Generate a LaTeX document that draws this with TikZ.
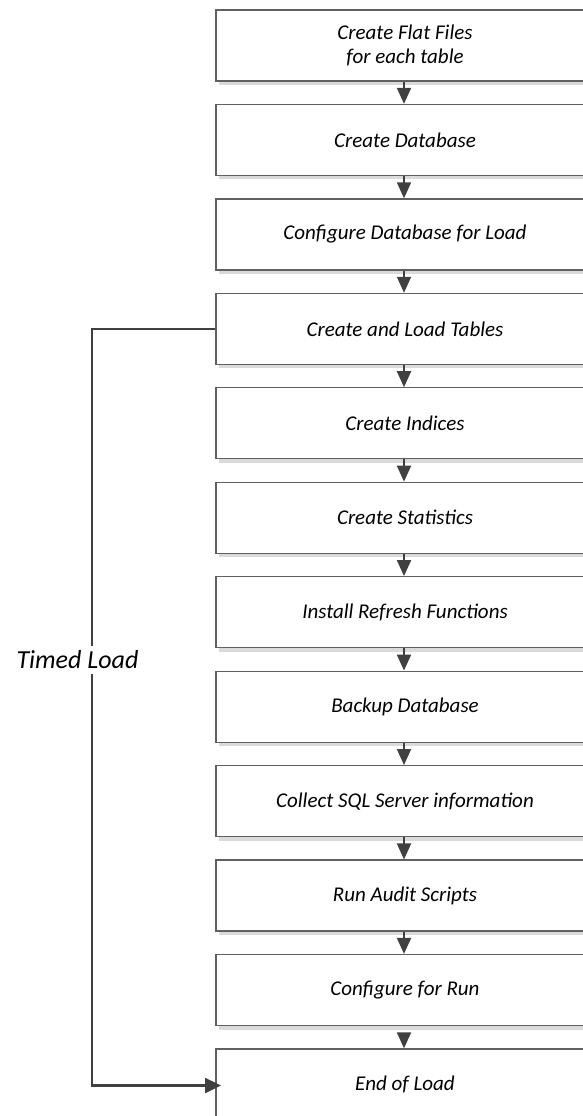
\documentclass[tikz,border=0pt]{standalone}
\usepackage{fontspec}
\setmainfont{Carlito}
\usetikzlibrary{arrows.meta,shadows}
\definecolor{lineclr}{HTML}{404040}
\definecolor{boxclr}{HTML}{606060}
\definecolor{shadowclr}{HTML}{DADADA}
\begin{document}
\begin{tikzpicture}[x=1pt,y=-1pt,
  stepbox/.style={draw=boxclr,line width=1.2pt,fill=white,minimum width=378pt,minimum height=71pt,
    inner sep=0pt,align=center,font=\fontsize{21}{24}\selectfont\itshape,
    drop shadow={shadow xshift=3pt,shadow yshift=-4pt,fill=shadowclr,opacity=1}},
  flow/.style={draw=lineclr,line width=2pt,-{Triangle[width=14pt,length=16pt]}},
  loopline/.style={draw=lineclr,line width=2.5pt,-{Triangle[width=15pt,length=16pt]}}]
\useasboundingbox (0,0) rectangle (583,1116);
\begin{scope}
\clip (0,0) rectangle (583,1116);
\node[stepbox] (b1) at (405,45.5) {Create Flat Files\\for each table};
\node[stepbox] (b2) at (405,139.95) {Create Database};
\node[stepbox] (b3) at (405,234.4) {Configure Database for Load};
\node[stepbox] (b4) at (405,328.85) {Create and Load Tables};
\node[stepbox] (b5) at (405,423.3) {Create Indices};
\node[stepbox] (b6) at (405,517.75) {Create Statistics};
\node[stepbox] (b7) at (405,612.2) {Install Refresh Functions};
\node[stepbox] (b8) at (405,706.65) {Backup Database};
\node[stepbox] (b9) at (405,801.1) {Collect SQL Server information};
\node[stepbox] (b10) at (405,895.55) {Run Audit Scripts};
\node[stepbox] (b11) at (405,990) {Configure for Run};
\node[stepbox] (b12) at (405,1084.45) {End of Load};
\foreach \a/\b in {b1/b2,b2/b3,b3/b4,b4/b5,b5/b6,b6/b7,b7/b8,b8/b9,b9/b10,b10/b11}
  \draw[flow] ([xshift=-1pt]\a.south) -- ([xshift=-1pt]\b.north);
\draw[flow] ([xshift=-1pt,yshift=-9pt]b11.south) -- ([xshift=-1pt]b12.north);
\coordinate (c1) at (92,328.85);
\coordinate (c2) at (92,1085.5);
\coordinate (c3) at (221,1085.5);
\draw[loopline] (b4.west) -- (c1) -- (c2) -- (c3);
\node[fill=white,inner xsep=2pt,inner ysep=5pt,font=\fontsize{26}{30}\selectfont\itshape] (tl) at (77.5,660) {Timed Load};
\end{scope}
\end{tikzpicture}
\end{document}
